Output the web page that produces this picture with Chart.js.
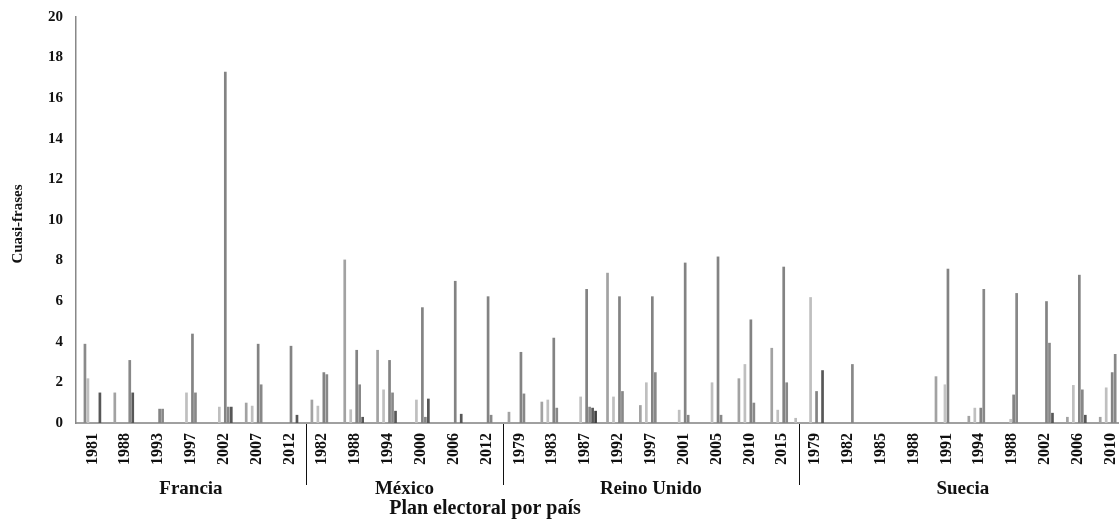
<!DOCTYPE html>
<html>
<head>
<meta charset="utf-8">
<script src="https://cdn.jsdelivr.net/npm/chart.js@4/dist/chart.umd.min.js"></script>
<style>
  html, body { margin: 0; padding: 0; background: #fff; overflow: hidden; }
  #wrap { position: relative; width: 1140px; height: 522px; }
</style>
</head>
<body>
<div id="wrap"><canvas id="chart"></canvas></div>
<script>
// ===== DATA =====
const categories = [
    "1981", "1988", "1993", "1997", "2002", "2007", "2012",
    "1982", "1988", "1994", "2000", "2006", "2012",
    "1979", "1983", "1987", "1992", "1997", "2001", "2005", "2010", "2015",
    "1979", "1982", "1985", "1988", "1991", "1994", "1988", "2002", "2006", "2010"
];
const countries = ["Francia", "México", "Reino Unido", "Suecia"];
const countrySizes = [7, 6, 9, 10];
const yTicks = [0, 2, 4, 6, 8, 10, 12, 14, 16, 18, 20];

const serie1 = [0, 0, 0, 0, 0, 0, 0, 0, 0, 0, 0, 0, 0, 0, 0, 0, 0, 0, 0, 0, 0, 0, 0, 0, 0, 0, 0, 0, 0, 0, 0, 0];
const serie2 = [0, 1.5, 0, 0, 0, 1.0, 0, 1.15, 8.05, 3.6, 0, 0, 0, 0.55, 1.05, 0, 7.4, 0.88, 0, 0, 2.2, 3.7, 0, 0, 0, 0, 2.3, 0.35, 0, 0, 0.3, 0.3];
const serie3 = [3.9, 0, 0, 0, 0, 0, 0, 0, 0, 0, 0, 0, 0, 0, 0, 0, 0, 0, 0, 0, 0, 0, 0, 0, 0, 0, 0, 0, 0, 0, 0, 0];
const serie4 = [2.2, 0, 0, 1.5, 0.8, 0.85, 0, 0.85, 0.67, 1.65, 1.15, 0, 0, 0, 1.15, 1.3, 1.3, 2.0, 0.65, 2.0, 2.9, 0.65, 6.2, 0, 0, 0, 0, 0.75, 0, 0, 1.87, 1.75];
const serie5 = [0, 0, 0, 0, 0, 0, 0, 0, 0, 0, 0, 0, 0, 0, 0, 0, 0, 0, 0, 0, 0, 0, 0, 0, 0, 0, 1.9, 0, 0.2, 0, 0, 0];
const serie6 = [0, 0, 0.7, 4.4, 17.3, 3.9, 3.8, 2.5, 3.6, 3.1, 5.7, 7.0, 6.24, 3.5, 4.2, 6.6, 6.24, 6.24, 7.9, 8.2, 5.1, 7.7, 1.57, 0, 0, 0, 7.6, 0.75, 1.4, 6.0, 7.3, 2.5];
const serie7 = [0, 3.1, 0.7, 1.5, 0.8, 1.9, 0, 2.4, 1.9, 1.5, 0.3, 0, 0.4, 1.45, 0.75, 0.8, 1.57, 2.5, 0.4, 0.4, 1.0, 2.0, 0, 2.9, 0, 0, 0, 6.6, 6.4, 3.95, 1.65, 3.4];
const serie8 = [1.5, 1.5, 0, 0, 0.8, 0, 0.4, 0, 0.3, 0.6, 1.2, 0.45, 0, 0, 0, 0.75, 0, 0, 0, 0, 0, 0, 2.6, 0, 0, 0, 0, 0, 0, 0.5, 0.4, 0];
const serie9 = [0, 0, 0, 0, 0, 0, 0, 0, 0, 0, 0, 0, 0, 0, 0, 0.6, 0, 0, 0, 0, 0, 0, 0, 0, 0, 0, 0, 0, 0, 0, 0, 0];
const serie10 = [0, 0, 0, 0, 0, 0, 0, 0, 0, 0, 0, 0, 0, 0, 0, 0, 0, 0, 0, 0, 0, 0.25, 0, 0, 0, 0, 0, 0, 0, 0, 0, 0];

const series = [serie1, serie2, serie3, serie4, serie5, serie6, serie7, serie8, serie9, serie10];
const colors = ["#c8c8c8", "#a2a2a2", "#8a8a8a", "#bfbfbf", "#c4c4c4", "#838383", "#888888", "#575757", "#3f3f3f", "#bbbbbb"];

const serif = '"Liberation Serif", "Times New Roman", serif';

// ===== country labels, separators, titles =====
const groupPlugin = {
    id: "groups",
    afterDraw(chart) {
        const ctx = chart.ctx;
        const x = chart.scales.x;
        const area = chart.chartArea;
        const half = (x.getPixelForValue(1) - x.getPixelForValue(0)) / 2;

        ctx.save();
        ctx.fillStyle = "#111";
        ctx.strokeStyle = "#111";
        ctx.lineWidth = 1;
        ctx.textAlign = "center";
        ctx.textBaseline = "middle";
        ctx.font = "bold 19px " + serif;

        let start = 0;
        countries.forEach((name, i) => {
            const end = start + countrySizes[i] - 1;
            const left = x.getPixelForValue(start) - half;
            const right = x.getPixelForValue(end) + half;
            ctx.fillText(name, (left + right) / 2, area.bottom + 66);
            if (i < countries.length - 1) {
                const sx = Math.round(right) + 0.5;
                ctx.beginPath();
                ctx.moveTo(sx, area.bottom + 1);
                ctx.lineTo(sx, area.bottom + 62);
                ctx.stroke();
            }
            start = end + 1;
        });

        ctx.font = "bold 20px " + serif;
        ctx.fillText("Plan electoral por país", 485, area.bottom + 86);

        ctx.translate(18, (area.top + area.bottom) / 2 + 4);
        ctx.rotate(-Math.PI / 2);
        ctx.font = "bold 15px " + serif;
        ctx.fillText("Cuasi-frases", 0, 0);
        ctx.restore();
    }
};

new Chart(document.getElementById("chart"), {
    type: "bar",
    data: {
        labels: categories,
        datasets: series.map((values, i) => ({
            label: "Serie " + (i + 1),
            data: values,
            backgroundColor: colors[i],
            borderWidth: 0,
            barPercentage: 0.9,
            categoryPercentage: 0.91
        }))
    },
    options: {
        responsive: true,
        maintainAspectRatio: false,
        animation: false,
        layout: { padding: { top: 17, right: 7, bottom: 0, left: 0 } },
        plugins: {
            legend: { display: false },
            tooltip: { enabled: false }
        },
        scales: {
            x: {
                grid: { display: false, drawTicks: false },
                border: { display: true, color: "#a0a0a0", width: 2 },
                ticks: {
                    autoSkip: false,
                    minRotation: 90,
                    maxRotation: 90,
                    padding: 10,
                    color: "#111",
                    font: { family: serif, size: 16, weight: "bold" }
                },
                afterFit(scale) { scale.height = 99; }
            },
            y: {
                min: 0,
                max: 20,
                afterBuildTicks(scale) { scale.ticks = yTicks.map(v => ({ value: v })); },
                grid: { display: false, drawTicks: true, tickLength: 9 },
                border: { display: true, color: "#888", width: 1.5 },
                ticks: {
                    padding: 4,
                    color: "#111",
                    font: { family: serif, size: 15, weight: "bold" }
                },
                afterFit(scale) { scale.width = 76; }
            }
        }
    },
    plugins: [groupPlugin]
});
</script>
</body>
</html>
